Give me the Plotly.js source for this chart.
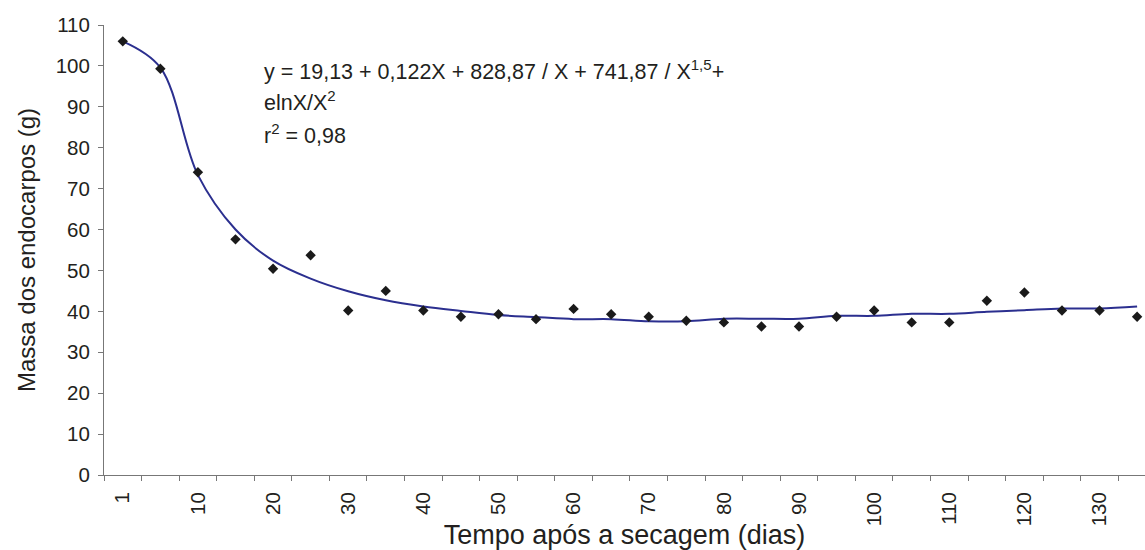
<!DOCTYPE html>
<html>
<head>
<meta charset="utf-8">
<script src="https://cdn.plot.ly/plotly-3.0.1.min.js"></script>
<style>html,body{margin:0;padding:0;background:#fff}#chart{width:1145px;height:550px}</style>
</head>
<body>
<div id="chart"></div>
<script>
// Categories (days after drying), equally spaced on a category axis
const days = [1, 5, 10, 15, 20, 25, 30, 35, 40, 45, 50, 55, 60, 65, 70, 75, 80, 85, 90, 95, 100, 105, 110, 115, 120, 125, 130, 135];
// Observed endocarp mass (g)
const mass = [106.0, 99.3, 74.0, 57.6, 50.4, 53.7, 40.2, 45.0, 40.2, 38.7, 39.3, 38.1, 40.6, 39.3, 38.7, 37.7, 37.3, 36.3, 36.3, 38.7, 40.2, 37.3, 37.3, 42.6, 44.6, 40.2, 40.2, 38.7];
// Fitted curve values read at each category
const fitted = [106.0, 99.6, 73.3, 60.0, 52.4, 48.0, 44.9, 42.7, 41.2, 40.1, 39.1, 38.6, 38.1, 38.1, 37.6, 37.6, 38.2, 38.2, 38.2, 38.9, 38.9, 39.4, 39.4, 39.9, 40.3, 40.7, 40.7, 41.2];
// Tick labels shown on the x axis
const xTickLabels = ['1', '10', '20', '30', '40', '50', '60', '70', '80', '90', '100', '110', '120', '130'];
const yTicks = [0, 10, 20, 30, 40, 50, 60, 70, 80, 90, 100, 110];

const idx = days.map((d, i) => i);
const boundaries = days.map((d, i) => i - 0.5);
const labelPos = xTickLabels.map(l => days.indexOf(Number(l)));
const xRange = [-0.5, 27.21];

const FONT = 'Liberation Sans, Arial, sans-serif';
const AXC = '#777777';
const TXT = '#231f20';

const traces = [
  {
    x: idx, y: fitted, type: 'scatter', mode: 'lines',
    line: {color: '#2b2f8f', width: 2, shape: 'spline', smoothing: 1},
    showlegend: false, hoverinfo: 'skip'
  },
  {
    x: idx, y: mass, type: 'scatter', mode: 'markers',
    marker: {symbol: 'diamond', size: 8, color: '#1a1a1a'},
    showlegend: false
  },
  {
    x: [], y: [], xaxis: 'x2', type: 'scatter', mode: 'markers',
    showlegend: false, hoverinfo: 'skip'
  }
];

const layout = {
  width: 1145, height: 550,
  margin: {l: 104, r: 0, t: 25, b: 75, pad: 0},
  paper_bgcolor: '#ffffff', plot_bgcolor: '#ffffff',
  font: {family: FONT, color: TXT},
  showlegend: false,
  xaxis: {
    type: 'linear', range: xRange, fixedrange: true,
    tickmode: 'array', tickvals: boundaries,
    ticks: 'outside', ticklen: 5, tickwidth: 1, tickcolor: AXC,
    showline: true, linecolor: AXC, linewidth: 1,
    showgrid: false, zeroline: false, showticklabels: false,
    title: {text: 'Tempo após a secagem (dias)', font: {size: 27, family: FONT, color: TXT}, standoff: 51}
  },
  xaxis2: {
    type: 'linear', range: xRange, overlaying: 'x', anchor: 'y', side: 'bottom', fixedrange: true,
    tickmode: 'array', tickvals: labelPos, ticktext: xTickLabels,
    tickangle: -90, ticks: '', showline: false, showgrid: false, zeroline: false,
    tickfont: {size: 20.5, family: FONT, color: TXT},
    ticklabelstandoff: 12
  },
  yaxis: {
    range: [0, 110], fixedrange: true,
    tickmode: 'array', tickvals: yTicks,
    ticks: 'outside', ticklen: 5, tickwidth: 1, tickcolor: AXC,
    showline: true, linecolor: AXC, linewidth: 1,
    showgrid: false, zeroline: false,
    tickfont: {size: 20.5, family: FONT, color: TXT},
    ticklabelstandoff: 4,
    title: {text: 'Massa dos endocarpos (g)', font: {size: 24, family: FONT, color: TXT}, standoff: 13}
  },
  annotations: [
    {xref: 'paper', yref: 'paper', x: 0.1515, y: 0.9007, xanchor: 'left', yanchor: 'middle', showarrow: false,
     text: 'y = 19,13 + 0,122X + 828,87 / X + 741,87 / X<sup>1,5</sup>+', font: {size: 21.5, family: FONT, color: TXT}},
    {xref: 'paper', yref: 'paper', x: 0.1515, y: 0.8304, xanchor: 'left', yanchor: 'middle', showarrow: false,
     text: 'elnX/X<sup>2</sup>', font: {size: 21.5, family: FONT, color: TXT}},
    {xref: 'paper', yref: 'paper', x: 0.1515, y: 0.7584, xanchor: 'left', yanchor: 'middle', showarrow: false,
     text: 'r<sup>2</sup> = 0,98', font: {size: 21.5, family: FONT, color: TXT}}
  ]
};

Plotly.newPlot('chart', traces, layout, {staticPlot: true, displayModeBar: false});
</script>
</body>
</html>
